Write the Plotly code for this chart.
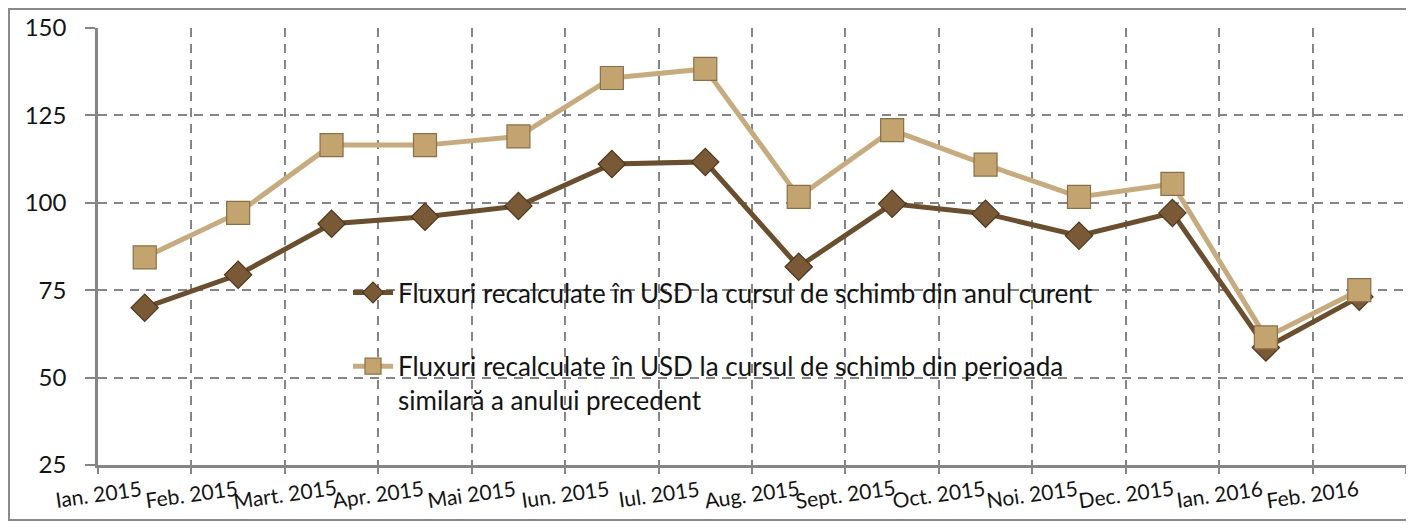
import plotly.graph_objects as go

categories = ["Ian. 2015", "Feb. 2015", "Mart. 2015", "Apr. 2015", "Mai 2015", "Iun. 2015",
              "Iul. 2015", "Aug. 2015", "Sept. 2015", "Oct. 2015", "Noi. 2015", "Dec. 2015",
              "Ian. 2016", "Feb. 2016"]
curent = [70.0, 79.4, 94.0, 96.0, 99.1, 111.1, 111.7, 81.7, 99.7, 96.9, 90.6, 97.1, 58.6, 73.1]
precedent = [84.4, 97.1, 116.5, 116.5, 119.0, 135.7, 138.3, 101.7, 120.8, 110.9, 101.7, 105.4, 61.5, 75.0]
y_ticks = [25, 50, 75, 100, 125, 150]
name_curent = "Fluxuri recalculate în USD la cursul de schimb din anul curent"
name_precedent = "Fluxuri recalculate în USD la cursul de schimb din perioada<br>similară a anului precedent"

xs = list(range(len(categories)))
bounds = [i - 0.5 for i in range(len(categories) + 1)]

# page body has an 8px margin; figure is sized to fit the window
W, H = 1406, 516
L, R, T, B = 90, 8, 20, 59
PW, PH = W - L - R, H - T - B


def px(sx):  # screen x -> paper x
    return (sx - 8 - L) / PW


def py(sy):  # screen y -> paper y
    return (H - B - (sy - 8)) / PH


FONT = "Lato"
GRID = "#858585"
fig = go.Figure()
fig.add_trace(go.Scatter(
    x=xs, y=curent, name=name_curent, mode="lines+markers", legendgroup="a",
    line=dict(color="#6B4E2C", width=5),
    marker=dict(symbol="diamond", size=21, color="#7A5A36",
                line=dict(color="#4E361C", width=1.2)),
))
fig.add_trace(go.Scatter(
    x=xs, y=precedent, name=name_precedent, mode="lines+markers", legendgroup="b",
    line=dict(color="#C7AB7D", width=5),
    marker=dict(symbol="square", size=23, color="#C4A46E",
                line=dict(color="#8C7045", width=1.2)),
))

# category labels, centred on category boundaries and slightly rotated
for i, lab in enumerate(categories):
    fig.add_annotation(x=bounds[i], xref="x", y=0, yref="paper", text=lab,
                       showarrow=False, textangle=-8, yanchor="middle", xanchor="center",
                       yshift=-28, font=dict(family=FONT, size=21, color="#141414"))

# white legend background
fig.add_shape(type="rect", xref="paper", yref="paper",
              x0=px(333), x1=px(1102), y0=py(420), y1=py(272),
              fillcolor="white", line=dict(width=0), layer="between")
# outer frame
fig.add_shape(type="rect", xref="paper", yref="paper",
              x0=px(9), x1=px(1410), y0=py(520), y1=py(9),
              line=dict(color="#8a8a8a", width=2), fillcolor="rgba(0,0,0,0)", layer="below")

fig.update_layout(
    width=W, height=H,
    margin=dict(l=L, r=R, t=T, b=B, autoexpand=False),
    paper_bgcolor="white", plot_bgcolor="white",
    showlegend=True,
    legend=dict(x=px(348), y=py(269), xanchor="left", yanchor="top", valign="top",
                bgcolor="rgba(0,0,0,0)", font=dict(family=FONT, size=26, color="#141414"),
                tracegroupgap=37, itemwidth=40),
    xaxis=dict(range=[-0.5, len(categories) - 0.5], tickvals=bounds, showticklabels=False,
               showgrid=True, gridcolor=GRID, gridwidth=2.2, griddash="9px,7px",
               showline=True, linecolor=GRID, linewidth=2.5, automargin=False,
               ticks="outside", ticklen=6, tickcolor=GRID, tickwidth=2, zeroline=False),
    yaxis=dict(range=[25, 150], tickvals=y_ticks, showgrid=True, gridcolor=GRID,
               gridwidth=2.2, griddash="9px,7px", showline=True, linecolor=GRID,
               linewidth=2.5, ticks="outside", ticklen=10, tickcolor=GRID, tickwidth=2,
               ticklabelstandoff=14, zeroline=False, automargin=False,
               tickfont=dict(family=FONT, size=24, color="#141414")),
)

fig.write_html("out.html")
